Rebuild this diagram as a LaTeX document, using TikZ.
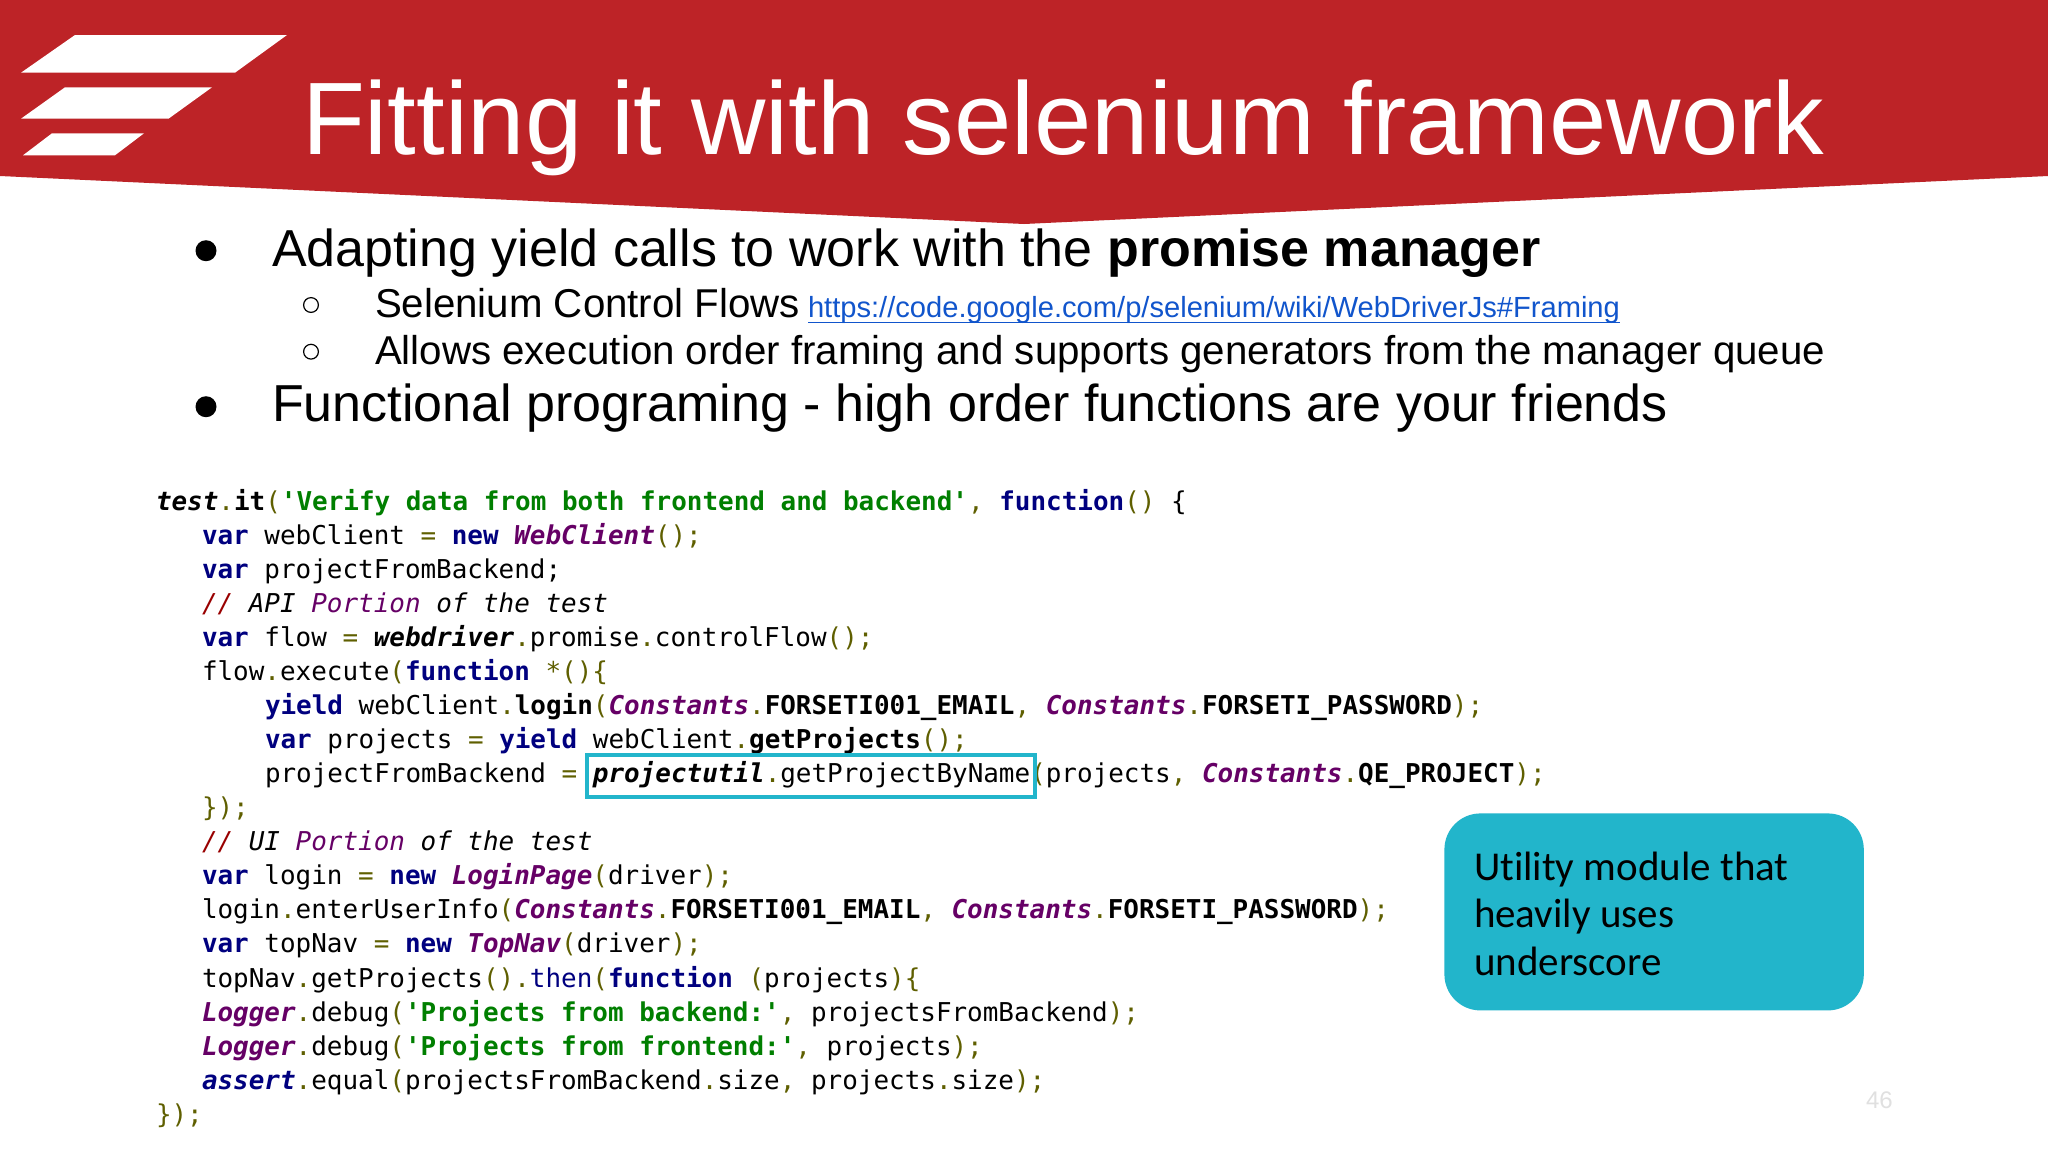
\documentclass[tikz,border=0pt]{standalone}
\usepackage{fontspec}
\setmainfont{Liberation Sans}
\setmonofont{DejaVu Sans Mono}
\newfontfamily\calloutfont[Ligatures=NoCommon]{Carlito}
\usepackage{tikz}
\definecolor{bannerred}{HTML}{BD2327}
\definecolor{calloutteal}{HTML}{22B5CB}
\definecolor{linkblue}{HTML}{1155CC}
\definecolor{codenavy}{HTML}{00007F}
\definecolor{codegreen}{HTML}{007F00}
\definecolor{codepurple}{HTML}{660066}
\definecolor{codeolive}{HTML}{5F5F00}
\definecolor{coderust}{HTML}{990000}
% code colouring
\newcommand{\ckey}[1]{\textcolor{codenavy}{\bfseries #1}}
\newcommand{\cstr}[1]{\textcolor{codegreen}{\bfseries #1}}
\newcommand{\ccls}[1]{\textcolor{codepurple}{\bfseries\itshape #1}}
\newcommand{\cobj}[1]{{\bfseries\itshape #1}}
\newcommand{\cmem}[1]{{\bfseries #1}}
\newcommand{\cpun}[1]{\textcolor{codeolive}{#1}}
\newcommand{\cnote}[1]{{\itshape\textcolor{coderust}{//} #1}}

\begin{document}
\begin{tikzpicture}[
    x=0.5pt, y=-0.5pt,
    plain text/.style={anchor=base west, inner sep=0pt, outer sep=0pt},
    title text/.style={plain text, white, font=\fontsize{51.5}{54}\selectfont},
    main text/.style={plain text, font=\fontsize{26}{29}\selectfont},
    sub text/.style={plain text, font=\fontsize{20.13}{24}\selectfont},
    link text/.style={plain text, linkblue, font=\fontsize{14.56}{18}\selectfont},
    code text/.style={plain text, font=\ttfamily\fontsize{12.97}{17}\selectfont},
    note text/.style={plain text, font=\calloutfont\fontsize{20.5}{24}\selectfont},
    big dot/.style={circle, fill=black, inner sep=0pt, minimum size=10.5pt},
    small dot/.style={circle, draw=black, line width=0.6pt, inner sep=0pt, minimum size=7.4pt},
    ]

    \useasboundingbox (0,0) rectangle (2048,1152);
    \fill[white] (0,0) rectangle (2048,1152);

    % banner and logo
    \fill[bannerred] (0,0) -- (2048,0) -- (2048,176) -- (1024,224) -- (0,176) -- cycle;
    \fill[white] (75,35) -- (287,35) -- (235,72.7) -- (21,72.7) -- cycle;
    \fill[white] (65,87.3) -- (212,87.3) -- (168.5,118.7) -- (21,118.7) -- cycle;
    \fill[white] (52,133.3) -- (144,133.3) -- (115,155.3) -- (23,155.3) -- cycle;
    \node[title text] (title) at (302,154) {Fitting it with selenium framework};

    % bullets
    \node[big dot] (dot1) at (206,250.7) {};
    \node[big dot] (dot2) at (206,406.7) {};
    \node[small dot] (sub1) at (311,305) {};
    \node[small dot] (sub2) at (311,351.7) {};
    \node[main text] (line1) at (272,266) {Adapting yield calls to work with the \textbf{promise manager}};
    \node[sub text] (line2) at (375,317) {Selenium Control Flows};
    \node[link text] (link) at (808,317) {https://code.google.com/p/selenium/wiki/WebDriverJs\#Framing};
    \draw[linkblue, line width=0.9pt] (808,322.5) -- (1620,322.5);
    \node[sub text] (line3) at (375,364) {Allows execution order framing and supports generators from the manager queue};
    \node[main text] (line4) at (272,421.7) {Functional programing - high order functions are your friends};

    % code listing
    \foreach \i/\x/\code in {
        0/156/{\cobj{test}\cpun{.}\cmem{it}\cpun{(}\cstr{'Verify data from both frontend and backend'}\cpun{,} \ckey{function}\cpun{()} \{},
        1/202/{\ckey{var} webClient \cpun{=} \ckey{new} \ccls{WebClient}\cpun{();}},
        2/202/{\ckey{var} projectFromBackend;},
        3/202/{\cnote{API \textcolor{codepurple}{Portion} of the test}},
        4/202/{\ckey{var} flow \cpun{=} \cobj{webdriver}\cpun{.}promise\cpun{.}controlFlow\cpun{();}},
        5/202/{flow\cpun{.}execute\cpun{(}\ckey{function} \cpun{*()\{}},
        6/265/{\ckey{yield} webClient\cpun{.}\cmem{login}\cpun{(}\ccls{Constants}\cpun{.}\cmem{FORSETI001\_EMAIL}\cpun{,} \ccls{Constants}\cpun{.}\cmem{FORSETI\_PASSWORD}\cpun{);}},
        7/265/{\ckey{var} projects \cpun{=} \ckey{yield} webClient\cpun{.}\cmem{getProjects}\cpun{();}},
        8/265/{projectFromBackend \cpun{=} \cobj{projectutil}\cpun{.}getProjectByName\cpun{(}projects\cpun{,} \ccls{Constants}\cpun{.}\cmem{QE\_PROJECT}\cpun{);}},
        9/202/{\cpun{\});}},
        10/202/{\cnote{UI \textcolor{codepurple}{Portion} of the test}},
        11/202/{\ckey{var} login \cpun{=} \ckey{new} \ccls{LoginPage}\cpun{(}driver\cpun{);}},
        12/202/{login\cpun{.}enterUserInfo\cpun{(}\ccls{Constants}\cpun{.}\cmem{FORSETI001\_EMAIL}\cpun{,} \ccls{Constants}\cpun{.}\cmem{FORSETI\_PASSWORD}\cpun{);}},
        13/202/{\ckey{var} topNav \cpun{=} \ckey{new} \ccls{TopNav}\cpun{(}driver\cpun{);}},
        14/202/{topNav\cpun{.}getProjects\cpun{().}\textcolor{codenavy}{then}\cpun{(}\ckey{function} \cpun{(}projects\cpun{)\{}},
        15/202/{\ccls{Logger}\cpun{.}debug\cpun{(}\cstr{'Projects from backend:'}\cpun{,} projectsFromBackend\cpun{);}},
        16/202/{\ccls{Logger}\cpun{.}debug\cpun{(}\cstr{'Projects from frontend:'}\cpun{,} projects\cpun{);}},
        17/202/{\textcolor{codenavy}{\bfseries\itshape assert}\cpun{.}equal\cpun{(}projectsFromBackend\cpun{.}size\cpun{,} projects\cpun{.}size\cpun{);}},
        18/156/{\cpun{\});}}}
        \node[code text] (code\i) at (\x,510+34.07*\i) {\code};

    % highlight and callout
    \draw[calloutteal, line width=2pt] (587,755) rectangle (1035,797);
    \node[fill=calloutteal, rounded corners=18pt, inner sep=0pt, minimum width=209.7pt, minimum height=98.5pt, anchor=north west] (callout) at (1444,813) {};
    \node[note text] (note1) at (1474,880) {Utility module that};
    \node[note text] (note2) at (1474,927) {heavily uses};
    \node[note text] (note3) at (1474,975) {underscore};

    % page number
    \node[plain text, black!12, font=\fontsize{12}{14}\selectfont] (page) at (1866,1108) {46};
\end{tikzpicture}
\end{document}
